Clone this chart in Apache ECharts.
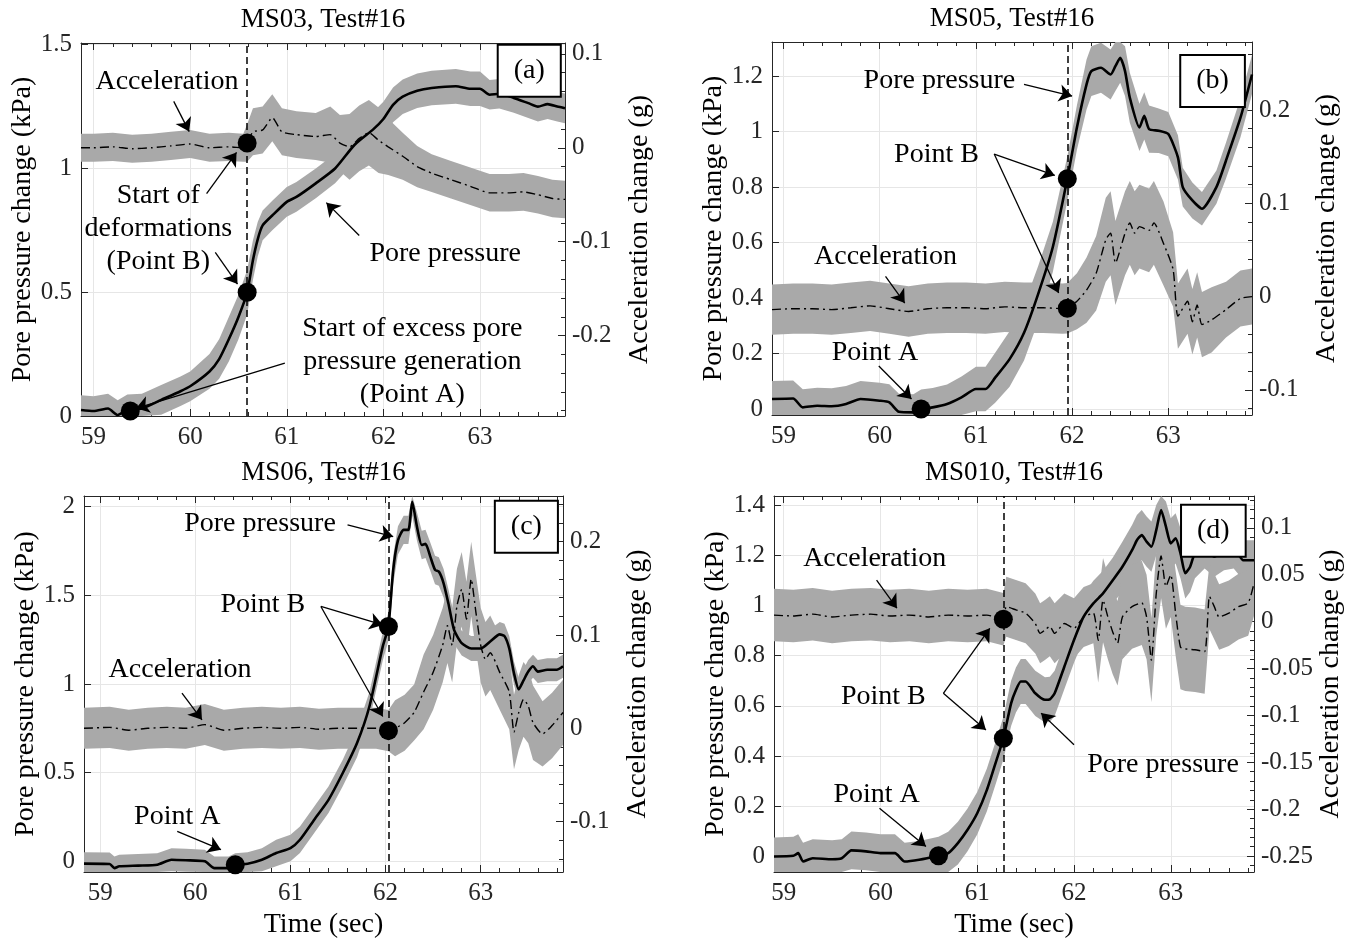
<!DOCTYPE html>
<html>
<head>
<meta charset="utf-8">
<script src="https://cdn.jsdelivr.net/npm/echarts@6/dist/echarts.min.js"></script>
<style>
  html, body { margin: 0; padding: 0; background: #fff; }
  #chart { width: 1357px; height: 940px; }
</style>
</head>
<body>
<div id="chart"></div>
<script>
// ---------- (a) MS03, Test#16 ----------
const tPoreA = [58.87, 59.0, 59.15, 59.25, 59.35, 59.5, 59.7, 59.9, 60.0, 60.2, 60.3, 60.4, 60.5, 60.59, 60.65, 60.7, 60.75, 60.85, 61.0, 61.1, 61.3, 61.5, 61.7, 61.9, 62.0, 62.1, 62.2, 62.35, 62.5, 62.75, 62.9, 63.0, 63.1, 63.2, 63.35, 63.5, 63.6, 63.7, 63.8, 63.88];
const poreA = [0.024, 0.02, 0.03, 0.004, 0.027, 0.03, 0.065, 0.1, 0.12, 0.18, 0.23, 0.31, 0.40, 0.50, 0.63, 0.715, 0.77, 0.81, 0.865, 0.885, 0.94, 1.0, 1.095, 1.16, 1.2, 1.257, 1.29, 1.314, 1.325, 1.332, 1.322, 1.322, 1.298, 1.302, 1.285, 1.264, 1.25, 1.26, 1.25, 1.243];
const poreSpreadA = [0.06, 0.06, 0.06, 0.06, 0.06, 0.06, 0.06, 0.06, 0.06, 0.07, 0.08, 0.09, 0.09, 0.09, 0.08, 0.07, 0.06, 0.06, 0.06, 0.06, 0.06, 0.06, 0.07, 0.07, 0.07, 0.07, 0.07, 0.07, 0.07, 0.07, 0.07, 0.07, 0.06, 0.06, 0.06, 0.06, 0.06, 0.06, 0.06, 0.06];
const tAccA = [58.87, 59.0, 59.2, 59.4, 59.6, 59.8, 60.0, 60.2, 60.4, 60.55, 60.59, 60.65, 60.75, 60.85, 60.95, 61.1, 61.3, 61.45, 61.55, 61.65, 61.75, 61.85, 61.95, 62.05, 62.2, 62.35, 62.5, 62.7, 62.9, 63.1, 63.3, 63.45, 63.6, 63.75, 63.88];
const accA = [0.0, 0.0, 0.001, -0.001, 0.0, 0.002, 0.004, 0.0, 0.001, 0.0, 0.005, 0.017, 0.019, 0.032, 0.017, 0.014, 0.012, 0.014, 0.005, 0.001, 0.01, 0.016, 0.008, 0.001, -0.009, -0.02, -0.027, -0.034, -0.041, -0.048, -0.048, -0.047, -0.05, -0.054, -0.055];
const accSpreadA = [0.015, 0.015, 0.015, 0.015, 0.015, 0.015, 0.015, 0.015, 0.015, 0.015, 0.02, 0.025, 0.025, 0.025, 0.025, 0.025, 0.025, 0.03, 0.03, 0.035, 0.035, 0.035, 0.035, 0.03, 0.025, 0.022, 0.02, 0.02, 0.02, 0.02, 0.02, 0.02, 0.02, 0.02, 0.02];
const onsetA = 60.59;
const porePtsA = [[59.38, 0.02], [60.59, 0.50]];
const accPtsA = [[60.59, 0.005]];
const notesA = [
  ['Acceleration', 59.76, 1.352],
  ['Start of\ndeformations\n(Point B)', 59.67, 0.758],
  ['Pore pressure', 62.64, 0.655],
  ['Start of excess pore\npressure generation\n(Point A)', 62.3, 0.22]
];
const arrowsA = [
  [59.83, 1.271, 59.99, 1.149],
  [60.17, 0.898, 60.48, 1.065],
  [60.26, 0.661, 60.49, 0.533],
  [61.75, 0.729, 61.41, 0.862],
  [60.98, 0.214, 59.44, 0.031]
];
const tagA = ['(a)', 63.51, 1.395];

// ---------- (b) MS05, Test#16 ----------
const tPoreB = [58.88, 59.1, 59.2, 59.35, 59.5, 59.65, 59.8, 60.0, 60.1, 60.2, 60.35, 60.43, 60.55, 60.7, 60.85, 61.0, 61.1, 61.2, 61.35, 61.5, 61.65, 61.8, 61.95, 62.05, 62.15, 62.2, 62.3, 62.4, 62.45, 62.5, 62.55, 62.6, 62.7, 62.75, 62.8, 62.9, 63.0, 63.1, 63.15, 63.25, 63.35, 63.5, 63.6, 63.75, 63.87];
const poreB = [0.036, 0.038, 0.006, 0.012, 0.01, 0.018, 0.036, 0.03, 0.024, -0.01, -0.012, 0.0, 0.006, 0.018, 0.042, 0.072, 0.072, 0.113, 0.18, 0.275, 0.418, 0.585, 0.83, 1.015, 1.17, 1.218, 1.23, 1.206, 1.236, 1.266, 1.218, 1.122, 1.015, 1.057, 1.009, 1.003, 0.991, 0.907, 0.8, 0.752, 0.722, 0.8, 0.896, 1.05, 1.206];
const poreSpreadB = [0.065, 0.065, 0.065, 0.065, 0.065, 0.065, 0.065, 0.065, 0.065, 0.065, 0.065, 0.07, 0.07, 0.07, 0.075, 0.08, 0.08, 0.09, 0.1, 0.1, 0.1, 0.09, 0.08, 0.08, 0.09, 0.09, 0.09, 0.09, 0.09, 0.09, 0.09, 0.09, 0.085, 0.085, 0.085, 0.08, 0.08, 0.08, 0.07, 0.065, 0.06, 0.06, 0.065, 0.07, 0.07];
const tAccB = [58.88, 59.1, 59.3, 59.5, 59.7, 59.9, 60.1, 60.3, 60.5, 60.7, 60.9, 61.1, 61.3, 61.5, 61.7, 61.9, 61.95, 62.05, 62.15, 62.25, 62.35, 62.4, 62.45, 62.55, 62.6, 62.65, 62.7, 62.8, 62.85, 62.95, 63.05, 63.1, 63.2, 63.25, 63.3, 63.35, 63.45, 63.6, 63.75, 63.87];
const accB = [-0.014, -0.013, -0.013, -0.014, -0.012, -0.01, -0.013, -0.016, -0.013, -0.012, -0.012, -0.013, -0.011, -0.012, -0.012, -0.013, -0.0125, -0.005, 0.007, 0.025, 0.061, 0.068, 0.036, 0.068, 0.079, 0.068, 0.075, 0.071, 0.079, 0.057, 0.029, -0.021, -0.005, -0.027, -0.009, -0.03, -0.025, -0.014, -0.002, 0.0];
const accSpreadB = [0.027, 0.027, 0.027, 0.027, 0.027, 0.027, 0.027, 0.027, 0.027, 0.027, 0.027, 0.027, 0.027, 0.027, 0.027, 0.027, 0.027, 0.03, 0.035, 0.04, 0.045, 0.045, 0.045, 0.045, 0.045, 0.045, 0.045, 0.045, 0.045, 0.045, 0.04, 0.035, 0.035, 0.035, 0.035, 0.035, 0.035, 0.03, 0.03, 0.03];
const onsetB = 61.95;
const porePtsB = [[60.43, 0.0], [61.95, 0.83]];
const accPtsB = [[61.95, -0.0125]];
const notesB = [
  ['Pore pressure', 60.62, 1.182],
  ['Point B', 60.59, 0.917],
  ['Acceleration', 60.06, 0.549],
  ['Point A', 59.95, 0.203]
];
const arrowsB = [
  [61.5, 1.17, 62.0, 1.128],
  [61.19, 0.919, 61.82, 0.842],
  [61.19, 0.919, 61.86, 0.418],
  [60.06, 0.478, 60.26, 0.382],
  [59.99, 0.155, 60.33, 0.036]
];
const tagB = ['(b)', 63.46, 1.182];

// ---------- (c) MS06, Test#16 ----------
const tPoreC = [58.83, 59.1, 59.15, 59.2, 59.4, 59.6, 59.75, 59.9, 60.1, 60.2, 60.35, 60.42, 60.55, 60.7, 60.85, 61.0, 61.1, 61.25, 61.4, 61.55, 61.7, 61.83, 61.97, 62.03, 62.08, 62.13, 62.19, 62.24, 62.28, 62.33, 62.38, 62.42, 62.47, 62.52, 62.56, 62.61, 62.66, 62.72, 62.8, 62.9, 63.0, 63.1, 63.2, 63.25, 63.3, 63.35, 63.4, 63.45, 63.5, 63.55, 63.6, 63.7, 63.8, 63.865];
const poreC = [-0.013, -0.015, -0.038, -0.028, -0.024, -0.019, 0.009, 0.006, 0.0, -0.038, -0.038, -0.019, -0.013, 0.009, 0.047, 0.075, 0.122, 0.235, 0.347, 0.498, 0.667, 0.873, 1.211, 1.324, 1.643, 1.81, 1.869, 1.869, 2.028, 1.887, 1.784, 1.79, 1.718, 1.643, 1.634, 1.568, 1.455, 1.305, 1.23, 1.2, 1.2, 1.24, 1.28, 1.27, 1.2, 1.06, 0.97, 1.02, 1.07, 1.1, 1.07, 1.08, 1.08, 1.1];
const poreSpreadC = [0.065, 0.065, 0.065, 0.065, 0.065, 0.065, 0.065, 0.065, 0.065, 0.065, 0.065, 0.065, 0.065, 0.065, 0.075, 0.075, 0.075, 0.075, 0.075, 0.075, 0.08, 0.08, 0.08, 0.08, 0.08, 0.08, 0.08, 0.08, 0.08, 0.08, 0.08, 0.08, 0.08, 0.08, 0.08, 0.08, 0.08, 0.08, 0.07, 0.07, 0.07, 0.07, 0.07, 0.07, 0.07, 0.065, 0.065, 0.065, 0.065, 0.065, 0.065, 0.065, 0.065, 0.065];
const tAccC = [58.83, 59.1, 59.3, 59.5, 59.7, 59.9, 60.1, 60.3, 60.5, 60.7, 60.9, 61.1, 61.3, 61.5, 61.7, 61.9, 62.03, 62.1, 62.2, 62.3, 62.4, 62.5, 62.6, 62.65, 62.7, 62.75, 62.8, 62.85, 62.9, 62.95, 63.0, 63.05, 63.1, 63.2, 63.3, 63.35, 63.4, 63.45, 63.5, 63.55, 63.65, 63.75, 63.865];
const accC = [0.0, 0.001, -0.002, 0.0, 0.001, 0.0, 0.004, -0.002, 0.0, 0.001, 0.0, 0.001, -0.001, 0.0, 0.0, 0.0, -0.0025, 0.0, 0.006, 0.017, 0.039, 0.06, 0.089, 0.11, 0.089, 0.131, 0.149, 0.117, 0.16, 0.124, 0.089, 0.074, 0.081, 0.06, 0.039, -0.004, 0.017, 0.031, 0.024, 0.006, -0.006, 0.003, 0.017];
const accSpreadC = [0.022, 0.022, 0.022, 0.022, 0.022, 0.022, 0.022, 0.022, 0.022, 0.022, 0.022, 0.022, 0.022, 0.022, 0.022, 0.022, 0.022, 0.03, 0.03, 0.03, 0.04, 0.04, 0.04, 0.04, 0.04, 0.04, 0.04, 0.04, 0.04, 0.04, 0.04, 0.04, 0.04, 0.04, 0.04, 0.04, 0.04, 0.04, 0.04, 0.04, 0.035, 0.035, 0.035];
const onsetC = 62.03;
const porePtsC = [[60.42, -0.019], [62.03, 1.324]];
const accPtsC = [[62.03, -0.0025]];
const notesC = [
  ['Pore pressure', 60.68, 1.906],
  ['Point B', 60.71, 1.446],
  ['Acceleration', 59.84, 1.08],
  ['Point A', 59.81, 0.254]
];
const arrowsC = [
  [61.6, 1.897, 62.08, 1.831],
  [61.32, 1.437, 61.97, 1.333],
  [61.32, 1.437, 61.97, 0.817],
  [59.86, 0.948, 60.07, 0.798],
  [59.81, 0.169, 60.27, 0.066]
];
const tagC = ['(c)', 63.48, 1.887];

// ---------- (d) MS010, Test#16 ----------
const tPoreD = [58.9, 59.1, 59.15, 59.2, 59.3, 59.5, 59.6, 59.7, 59.85, 60.0, 60.15, 60.25, 60.4, 60.6, 60.7, 60.8, 60.9, 61.0, 61.1, 61.2, 61.27, 61.35, 61.4, 61.45, 61.5, 61.6, 61.7, 61.75, 61.8, 61.9, 62.0, 62.1, 62.2, 62.3, 62.4, 62.5, 62.6, 62.65, 62.7, 62.75, 62.8, 62.85, 62.9, 62.95, 63.0, 63.05, 63.1, 63.15, 63.2, 63.25, 63.35, 63.45, 63.55, 63.65, 63.75, 63.86];
const poreD = [0.0, 0.003, 0.013, -0.02, -0.007, -0.011, -0.007, 0.024, 0.02, 0.013, 0.013, -0.02, -0.013, 0.003, 0.013, 0.053, 0.106, 0.172, 0.265, 0.385, 0.471, 0.61, 0.663, 0.697, 0.697, 0.65, 0.624, 0.626, 0.65, 0.756, 0.862, 0.955, 1.008, 1.048, 1.1, 1.154, 1.22, 1.26, 1.28, 1.254, 1.234, 1.3, 1.38, 1.314, 1.247, 1.267, 1.208, 1.128, 1.154, 1.208, 1.227, 1.194, 1.22, 1.227, 1.18, 1.18];
const poreSpreadD = [0.075, 0.075, 0.075, 0.075, 0.075, 0.075, 0.075, 0.075, 0.075, 0.075, 0.075, 0.075, 0.075, 0.075, 0.085, 0.085, 0.085, 0.085, 0.085, 0.085, 0.085, 0.09, 0.09, 0.09, 0.09, 0.09, 0.09, 0.09, 0.09, 0.09, 0.09, 0.09, 0.09, 0.09, 0.09, 0.1, 0.1, 0.1, 0.1, 0.1, 0.1, 0.1, 0.1, 0.1, 0.1, 0.1, 0.1, 0.1, 0.1, 0.1, 0.08, 0.08, 0.08, 0.08, 0.08, 0.08];
const tAccD = [58.9, 59.1, 59.3, 59.5, 59.7, 59.9, 60.1, 60.3, 60.5, 60.7, 60.9, 61.1, 61.27, 61.3, 61.4, 61.5, 61.6, 61.65, 61.7, 61.75, 61.8, 61.9, 62.0, 62.1, 62.2, 62.25, 62.3, 62.35, 62.4, 62.45, 62.5, 62.6, 62.7, 62.75, 62.8, 62.85, 62.9, 62.95, 63.0, 63.05, 63.1, 63.15, 63.25, 63.35, 63.4, 63.45, 63.5, 63.6, 63.7, 63.8, 63.86];
const accD = [0.007, 0.006, 0.008, 0.005, 0.007, 0.008, 0.006, 0.007, 0.005, 0.007, 0.006, 0.007, 0.0025, 0.016, 0.0125, 0.009, -0.002, -0.0125, -0.009, -0.005, -0.0125, -0.002, -0.007, 0.005, 0.009, -0.02, 0.023, 0.005, -0.011, -0.023, 0.005, 0.016, 0.02, 0.005, -0.041, 0.03, 0.07, 0.0375, 0.05, 0.009, -0.027, -0.029, -0.03, -0.032, 0.027, 0.016, 0.005, 0.009, 0.016, 0.02, 0.041];
const accSpreadD = [0.028, 0.028, 0.028, 0.028, 0.028, 0.028, 0.028, 0.028, 0.028, 0.028, 0.028, 0.028, 0.028, 0.032, 0.032, 0.032, 0.032, 0.032, 0.032, 0.032, 0.032, 0.032, 0.032, 0.032, 0.032, 0.045, 0.045, 0.045, 0.045, 0.045, 0.045, 0.045, 0.045, 0.045, 0.045, 0.045, 0.045, 0.045, 0.045, 0.045, 0.045, 0.045, 0.045, 0.045, 0.035, 0.035, 0.035, 0.035, 0.035, 0.035, 0.035];
const onsetD = 61.27;
const porePtsD = [[60.6, 0.003], [61.27, 0.471]];
const accPtsD = [[61.27, 0.0025]];
const notesD = [
  ['Acceleration', 59.94, 1.188],
  ['Point B', 60.03, 0.637],
  ['Pore pressure', 62.92, 0.365],
  ['Point A', 59.96, 0.245]
];
const arrowsD = [
  [59.96, 1.101, 60.17, 0.989],
  [60.65, 0.65, 61.13, 0.909],
  [60.65, 0.65, 61.09, 0.504],
  [62.0, 0.445, 61.66, 0.571],
  [59.99, 0.192, 60.47, 0.04]
];
const tagD = ['(d)', 63.44, 1.298];

// ---------- panel setup ----------
const FONT = 'Liberation Serif';
const INK = '#000';
const TICK_INK = '#262626';
const RAW_GRAY = '#a9a9a9';
const GRID_GRAY = '#e6e6e6';

const panels = [
  { title: 'MS03, Test#16', grid: { left: 81, top: 43, width: 484, height: 373 },
    xRange: [58.87, 63.88], poreRange: [0, 1.507], poreSplit: 3, poreStep: 0.5,
    accRange: [-0.2857, 0.1116], accSplit: 4, accStep: 0.1, xName: '',
    tPore: tPoreA, pore: poreA, poreSpread: poreSpreadA, tAcc: tAccA, acc: accA, accSpread: accSpreadA,
    onset: onsetA, porePts: porePtsA, accPts: accPtsA, notes: notesA, arrows: arrowsA, tag: tagA },
  { title: 'MS05, Test#16', grid: { left: 772, top: 42, width: 480, height: 373 },
    xRange: [58.88, 63.87], poreRange: [-0.0215, 1.323], poreSplit: 7, poreStep: 0.2,
    accRange: [-0.127, 0.273], accSplit: 4, accStep: 0.1, xName: '',
    tPore: tPoreB, pore: poreB, poreSpread: poreSpreadB, tAcc: tAccB, acc: accB, accSpread: accSpreadB,
    onset: onsetB, porePts: porePtsB, accPts: accPtsB, notes: notesB, arrows: arrowsB, tag: tagB },
  { title: 'MS06, Test#16', grid: { left: 84, top: 496, width: 479, height: 376 },
    xRange: [58.83, 63.865], poreRange: [-0.06, 2.06], poreSplit: 4, poreStep: 0.5,
    accRange: [-0.154, 0.249], accSplit: 4, accStep: 0.1, xName: 'Time (sec)',
    tPore: tPoreC, pore: poreC, poreSpread: poreSpreadC, tAcc: tAccC, acc: accC, accSpread: accSpreadC,
    onset: onsetC, porePts: porePtsC, accPts: accPtsC, notes: notesC, arrows: arrowsC, tag: tagC },
  { title: 'MS010, Test#16', grid: { left: 774, top: 496, width: 480, height: 376 },
    xRange: [58.9, 63.86], poreRange: [-0.062, 1.436], poreSplit: 7, poreStep: 0.2,
    accRange: [-0.267, 0.134], accSplit: 8, accStep: 0.05, xName: 'Time (sec)',
    tPore: tPoreD, pore: poreD, poreSpread: poreSpreadD, tAcc: tAccD, acc: accD, accSpread: accSpreadD,
    onset: onsetD, porePts: porePtsD, accPts: accPtsD, notes: notesD, arrows: arrowsD, tag: tagD }
];

// Tick labels only at whole multiples of the axis step (hides the min/max end labels).
function stepLabel(step) {
  return function (v) {
    const k = v / step;
    if (Math.abs(k - Math.round(k)) > 1e-6) return '';
    return String(+v.toFixed(4));
  };
}

const zip = (xs, ys) => xs.map((x, i) => [x, ys[i]]);

// Raw (unfiltered) record drawn as a grey envelope around the filtered trace.
function envelopeSeries(xi, yi, t, v, spread) {
  return {
    type: 'custom', xAxisIndex: xi, yAxisIndex: yi, silent: true, z: 1,
    data: [[t[0], v[0]]],
    renderItem: function (params, api) {
      if (params.dataIndex !== 0) return null;
      const upper = t.map((x, i) => api.coord([x, v[i] + spread[i]]));
      const lower = t.map((x, i) => api.coord([x, v[i] - spread[i]])).reverse();
      const pts = echarts.graphic.clipPointsByRect(upper.concat(lower), params.coordSys);
      return { type: 'polygon', shape: { points: pts }, style: { fill: RAW_GRAY } };
    }
  };
}

const textBase = { fontFamily: FONT, color: INK, opacity: 1 };
const hiddenSymbol = { color: 'rgba(0,0,0,0)', opacity: 1 };

const grids = [], xAxes = [], yAxes = [], series = [], graphics = [];

panels.forEach((p, i) => {
  grids.push(Object.assign({ containLabel: false, outerBoundsMode: 'none' }, p.grid));

  const tickStyle = { lineStyle: { color: TICK_INK, width: 1 } };
  // bottom time axis
  xAxes.push({
    type: 'value', gridIndex: i, position: 'bottom', min: p.xRange[0], max: p.xRange[1], splitNumber: 5,
    axisLine: { show: true, onZero: false, lineStyle: { color: TICK_INK, width: 1 } },
    axisTick: Object.assign({ show: true, inside: true, length: 7 }, tickStyle),
    minorTick: Object.assign({ show: true, splitNumber: 5, length: 4 }, tickStyle),
    splitLine: { show: true, lineStyle: { color: GRID_GRAY, width: 1 } },
    axisLabel: { formatter: stepLabel(1), fontFamily: FONT, fontSize: 25, color: TICK_INK, margin: 9 },
    name: p.xName, nameLocation: 'middle', nameGap: 39,
    nameTextStyle: Object.assign({ fontSize: 28 }, textBase)
  });
  // top frame axis
  xAxes.push({
    type: 'value', gridIndex: i, position: 'top', min: p.xRange[0], max: p.xRange[1], splitNumber: 5,
    axisLine: { show: true, onZero: false, lineStyle: { color: TICK_INK, width: 1 } },
    axisTick: Object.assign({ show: true, inside: true, length: 7 }, tickStyle),
    minorTick: Object.assign({ show: true, splitNumber: 5, length: 4 }, tickStyle),
    splitLine: { show: false }, axisLabel: { show: false }
  });
  // pore pressure (left)
  yAxes.push({
    type: 'value', gridIndex: i, position: 'left', min: p.poreRange[0], max: p.poreRange[1], splitNumber: p.poreSplit,
    axisLine: { show: true, onZero: false, lineStyle: { color: TICK_INK, width: 1 } },
    axisTick: Object.assign({ show: true, inside: true, length: 7 }, tickStyle),
    splitLine: { show: true, lineStyle: { color: GRID_GRAY, width: 1 } },
    axisLabel: { formatter: stepLabel(p.poreStep), fontFamily: FONT, fontSize: 25, color: TICK_INK, margin: 9 },
    name: 'Pore pressure change (kPa)', nameLocation: 'middle', nameRotate: 90, nameGap: 36,
    nameTextStyle: Object.assign({ fontSize: 28 }, textBase)
  });
  // acceleration (right)
  yAxes.push({
    type: 'value', gridIndex: i, position: 'right', min: p.accRange[0], max: p.accRange[1], splitNumber: p.accSplit,
    axisLine: { show: true, onZero: false, lineStyle: { color: TICK_INK, width: 1 } },
    axisTick: Object.assign({ show: true, inside: true, length: 7 }, tickStyle),
    minorTick: Object.assign({ show: true, splitNumber: 5, length: 4 }, tickStyle),
    splitLine: { show: false },
    axisLabel: { formatter: stepLabel(p.accStep), fontFamily: FONT, fontSize: 25, color: TICK_INK, margin: 7 },
    name: 'Acceleration change (g)', nameLocation: 'middle', nameRotate: 90, nameGap: 61,
    nameTextStyle: Object.assign({ fontSize: 28 }, textBase)
  });

  const xi = i * 2, yP = i * 2, yA = i * 2 + 1;

  series.push(envelopeSeries(xi, yP, p.tPore, p.pore, p.poreSpread));
  series.push(envelopeSeries(xi, yA, p.tAcc, p.acc, p.accSpread));

  // filtered acceleration (dash-dot) + onset line
  series.push({
    type: 'line', xAxisIndex: xi, yAxisIndex: yA, data: zip(p.tAcc, p.acc),
    symbol: 'none', smooth: 0.2, z: 3, silent: true,
    lineStyle: { color: INK, width: 1.4, type: [9, 4, 2, 4] },
    markLine: {
      silent: true, symbol: ['none', 'none'], label: { show: false }, animation: false,
      lineStyle: { color: INK, width: 1.5, type: [7, 4] },
      emphasis: { disabled: true },
      data: [{ xAxis: p.onset }]
    }
  });

  // filtered pore pressure + annotation arrows
  series.push({
    type: 'line', xAxisIndex: xi, yAxisIndex: yP, data: zip(p.tPore, p.pore),
    symbol: 'none', smooth: 0.2, z: 4, silent: true,
    lineStyle: { color: INK, width: 2.6 },
    markLine: {
      silent: true, symbol: ['none', 'arrow'], symbolSize: 13, label: { show: false }, animation: false,
      lineStyle: { color: INK, width: 1.3, type: 'solid' },
      emphasis: { disabled: true },
      data: p.arrows.map(a => [{ coord: [a[0], a[1]] }, { coord: [a[2], a[3]] }])
    }
  });

  // Point A / Point B markers
  series.push({
    type: 'scatter', xAxisIndex: xi, yAxisIndex: yP, data: p.porePts,
    symbol: 'circle', symbolSize: 19, itemStyle: { color: '#000', opacity: 1 }, z: 6, silent: true
  });
  series.push({
    type: 'scatter', xAxisIndex: xi, yAxisIndex: yA, data: p.accPts,
    symbol: 'circle', symbolSize: 19, itemStyle: { color: '#000', opacity: 1 }, z: 6, silent: true
  });

  // text annotations
  series.push({
    type: 'scatter', xAxisIndex: xi, yAxisIndex: yP, z: 7, silent: true,
    symbolSize: 0, itemStyle: hiddenSymbol,
    label: Object.assign({ show: true, position: 'inside', fontSize: 28, lineHeight: 33, align: 'center' }, textBase),
    data: p.notes.map(n => ({ value: [n[1], n[2]], label: { formatter: n[0] } }))
  });

  // panel tag box
  series.push({
    type: 'scatter', xAxisIndex: xi, yAxisIndex: yP, z: 8, silent: true,
    symbolSize: 0, itemStyle: hiddenSymbol,
    label: Object.assign({
      show: true, position: 'inside', fontSize: 28, lineHeight: 33,
      backgroundColor: '#fff', borderColor: INK, borderWidth: 2, padding: [9, 15, 8, 15],
      formatter: p.tag[0]
    }, textBase),
    data: [[p.tag[1], p.tag[2]]]
  });

  // panel title
  graphics.push({
    type: 'text', x: p.grid.left + p.grid.width / 2, y: p.grid.top - 23, silent: true,
    style: { text: p.title, fontFamily: FONT, fontSize: 27, fill: INK,
             align: 'center', verticalAlign: 'middle', textAlign: 'center', textVerticalAlign: 'middle' }
  });
});

const chart = echarts.init(document.getElementById('chart'), null, { renderer: 'canvas' });
chart.setOption({
  backgroundColor: '#fff',
  animation: false,
  grid: grids,
  xAxis: xAxes,
  yAxis: yAxes,
  series: series,
  graphic: graphics
});
</script>
</body>
</html>
